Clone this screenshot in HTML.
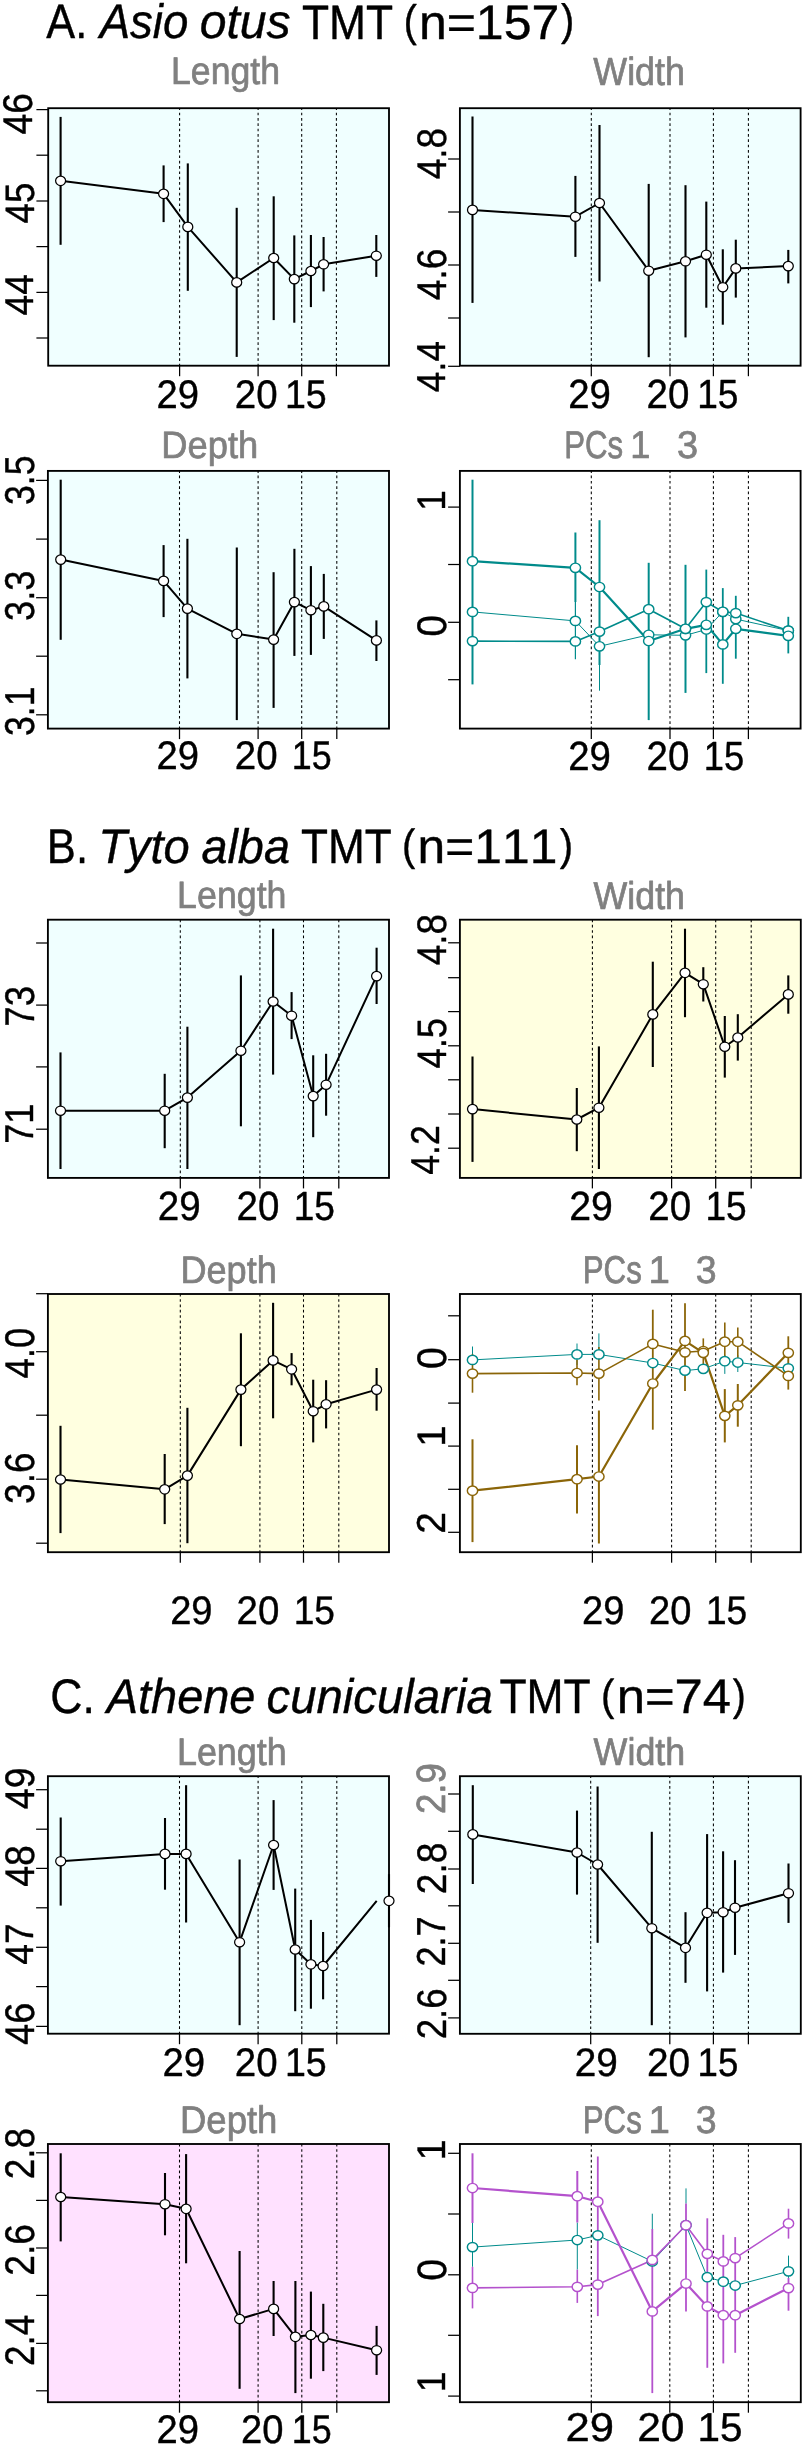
<!DOCTYPE html>
<html><head><meta charset="utf-8"><title>Owl TMT morphometrics</title>
<style>
html,body{margin:0;padding:0;background:#fff;}
body{width:804px;height:2446px;overflow:hidden;}
svg{display:block;}
text{font-family:"Liberation Sans",sans-serif;font-size:100px;text-rendering:geometricPrecision;font-kerning:none;font-feature-settings:"kern" 0,"liga" 0;stroke-linejoin:round;}
.dot{stroke:#000;stroke-width:1.05;stroke-dasharray:2.67 2.671;}
.tk{stroke:#000;stroke-width:1.25;}
.box{fill:none;stroke:#000;stroke-width:1.85;}
.bar{stroke:#000;stroke-width:2.1;}
.ln{fill:none;stroke:#000;stroke-width:2.0;stroke-linejoin:round;}
.pt{fill:#fff;stroke:#000;stroke-width:1.25;}
.tx{filter:grayscale(1);}
</style></head>
<body>
<svg width="804" height="2446" viewBox="0 0 804 2446">
<rect width="804" height="2446" fill="#fff"/>
<rect x="48.20" y="108.20" width="340.80" height="257.50" fill="#F0FFFF"/>
<line x1="179.60" y1="366.35" x2="179.60" y2="108.20" class="dot"/>
<line x1="258.10" y1="366.35" x2="258.10" y2="108.20" class="dot"/>
<line x1="301.70" y1="366.35" x2="301.70" y2="108.20" class="dot"/>
<line x1="336.40" y1="366.35" x2="336.40" y2="108.20" class="dot"/>
<line x1="179.60" y1="365.70" x2="179.60" y2="376.20" class="tk"/>
<line x1="258.10" y1="365.70" x2="258.10" y2="376.20" class="tk"/>
<line x1="301.70" y1="365.70" x2="301.70" y2="376.20" class="tk"/>
<line x1="336.40" y1="365.70" x2="336.40" y2="376.20" class="tk"/>
<rect x="48.20" y="108.20" width="340.80" height="257.50" class="box"/>
<line x1="36.40" y1="109.60" x2="48.20" y2="109.60" class="tk"/>
<line x1="36.40" y1="155.20" x2="48.20" y2="155.20" class="tk"/>
<line x1="36.40" y1="201.00" x2="48.20" y2="201.00" class="tk"/>
<line x1="36.40" y1="246.60" x2="48.20" y2="246.60" class="tk"/>
<line x1="36.40" y1="292.40" x2="48.20" y2="292.40" class="tk"/>
<line x1="36.40" y1="338.00" x2="48.20" y2="338.00" class="tk"/>
<line x1="60.60" y1="116.90" x2="60.60" y2="244.80" class="bar"/>
<line x1="163.60" y1="165.40" x2="163.60" y2="222.10" class="bar"/>
<line x1="187.80" y1="163.40" x2="187.80" y2="290.80" class="bar"/>
<line x1="236.70" y1="207.80" x2="236.70" y2="356.90" class="bar"/>
<line x1="273.70" y1="196.30" x2="273.70" y2="320.10" class="bar"/>
<line x1="294.30" y1="235.40" x2="294.30" y2="322.70" class="bar"/>
<line x1="310.90" y1="235.00" x2="310.90" y2="307.10" class="bar"/>
<line x1="323.60" y1="237.00" x2="323.60" y2="291.40" class="bar"/>
<line x1="376.30" y1="235.00" x2="376.30" y2="276.90" class="bar"/>
<polyline points="60.60,180.80 163.60,193.80 187.80,226.90 236.70,282.40 273.70,258.00 294.30,279.10 310.90,271.00 323.60,264.30 376.30,255.70" class="ln"/>
<ellipse cx="60.60" cy="180.80" rx="5.0" ry="4.7" class="pt"/>
<ellipse cx="163.60" cy="193.80" rx="5.0" ry="4.7" class="pt"/>
<ellipse cx="187.80" cy="226.90" rx="5.0" ry="4.7" class="pt"/>
<ellipse cx="236.70" cy="282.40" rx="5.0" ry="4.7" class="pt"/>
<ellipse cx="273.70" cy="258.00" rx="5.0" ry="4.7" class="pt"/>
<ellipse cx="294.30" cy="279.10" rx="5.0" ry="4.7" class="pt"/>
<ellipse cx="310.90" cy="271.00" rx="5.0" ry="4.7" class="pt"/>
<ellipse cx="323.60" cy="264.30" rx="5.0" ry="4.7" class="pt"/>
<ellipse cx="376.30" cy="255.70" rx="5.0" ry="4.7" class="pt"/>
<rect x="459.90" y="108.20" width="340.70" height="257.50" fill="#F0FFFF"/>
<line x1="591.30" y1="366.35" x2="591.30" y2="108.20" class="dot"/>
<line x1="670.00" y1="366.35" x2="670.00" y2="108.20" class="dot"/>
<line x1="713.40" y1="366.35" x2="713.40" y2="108.20" class="dot"/>
<line x1="748.40" y1="366.35" x2="748.40" y2="108.20" class="dot"/>
<line x1="591.30" y1="365.70" x2="591.30" y2="376.20" class="tk"/>
<line x1="670.00" y1="365.70" x2="670.00" y2="376.20" class="tk"/>
<line x1="713.40" y1="365.70" x2="713.40" y2="376.20" class="tk"/>
<line x1="748.40" y1="365.70" x2="748.40" y2="376.20" class="tk"/>
<rect x="459.90" y="108.20" width="340.70" height="257.50" class="box"/>
<line x1="448.10" y1="159.00" x2="459.90" y2="159.00" class="tk"/>
<line x1="448.10" y1="212.00" x2="459.90" y2="212.00" class="tk"/>
<line x1="448.10" y1="265.00" x2="459.90" y2="265.00" class="tk"/>
<line x1="448.10" y1="318.00" x2="459.90" y2="318.00" class="tk"/>
<line x1="448.10" y1="366.30" x2="459.90" y2="366.30" class="tk"/>
<line x1="472.50" y1="116.50" x2="472.50" y2="302.90" class="bar"/>
<line x1="575.40" y1="175.90" x2="575.40" y2="256.90" class="bar"/>
<line x1="599.50" y1="125.00" x2="599.50" y2="281.50" class="bar"/>
<line x1="648.70" y1="183.90" x2="648.70" y2="357.20" class="bar"/>
<line x1="685.50" y1="185.20" x2="685.50" y2="337.40" class="bar"/>
<line x1="706.30" y1="201.60" x2="706.30" y2="307.70" class="bar"/>
<line x1="722.80" y1="249.30" x2="722.80" y2="324.70" class="bar"/>
<line x1="735.80" y1="239.70" x2="735.80" y2="297.60" class="bar"/>
<line x1="788.30" y1="249.90" x2="788.30" y2="283.40" class="bar"/>
<polyline points="472.50,209.90 575.40,216.70 599.50,203.00 648.70,270.70 685.50,261.30 706.30,254.70 722.80,287.20 735.80,268.40 788.30,266.10" class="ln"/>
<ellipse cx="472.50" cy="209.90" rx="5.0" ry="4.7" class="pt"/>
<ellipse cx="575.40" cy="216.70" rx="5.0" ry="4.7" class="pt"/>
<ellipse cx="599.50" cy="203.00" rx="5.0" ry="4.7" class="pt"/>
<ellipse cx="648.70" cy="270.70" rx="5.0" ry="4.7" class="pt"/>
<ellipse cx="685.50" cy="261.30" rx="5.0" ry="4.7" class="pt"/>
<ellipse cx="706.30" cy="254.70" rx="5.0" ry="4.7" class="pt"/>
<ellipse cx="722.80" cy="287.20" rx="5.0" ry="4.7" class="pt"/>
<ellipse cx="735.80" cy="268.40" rx="5.0" ry="4.7" class="pt"/>
<ellipse cx="788.30" cy="266.10" rx="5.0" ry="4.7" class="pt"/>
<rect x="47.90" y="470.90" width="341.10" height="257.70" fill="#F0FFFF"/>
<line x1="179.50" y1="729.25" x2="179.50" y2="470.90" class="dot"/>
<line x1="258.10" y1="729.25" x2="258.10" y2="470.90" class="dot"/>
<line x1="301.70" y1="729.25" x2="301.70" y2="470.90" class="dot"/>
<line x1="336.80" y1="729.25" x2="336.80" y2="470.90" class="dot"/>
<line x1="179.50" y1="728.60" x2="179.50" y2="739.10" class="tk"/>
<line x1="258.10" y1="728.60" x2="258.10" y2="739.10" class="tk"/>
<line x1="301.70" y1="728.60" x2="301.70" y2="739.10" class="tk"/>
<line x1="336.80" y1="728.60" x2="336.80" y2="739.10" class="tk"/>
<rect x="47.90" y="470.90" width="341.10" height="257.70" class="box"/>
<line x1="36.10" y1="480.40" x2="47.90" y2="480.40" class="tk"/>
<line x1="36.10" y1="539.10" x2="47.90" y2="539.10" class="tk"/>
<line x1="36.10" y1="597.70" x2="47.90" y2="597.70" class="tk"/>
<line x1="36.10" y1="656.20" x2="47.90" y2="656.20" class="tk"/>
<line x1="36.10" y1="714.80" x2="47.90" y2="714.80" class="tk"/>
<line x1="60.70" y1="479.70" x2="60.70" y2="639.80" class="bar"/>
<line x1="163.60" y1="545.10" x2="163.60" y2="617.10" class="bar"/>
<line x1="187.40" y1="538.80" x2="187.40" y2="678.40" class="bar"/>
<line x1="236.80" y1="547.50" x2="236.80" y2="720.10" class="bar"/>
<line x1="273.60" y1="572.20" x2="273.60" y2="707.90" class="bar"/>
<line x1="294.40" y1="548.80" x2="294.40" y2="655.90" class="bar"/>
<line x1="310.90" y1="566.10" x2="310.90" y2="654.90" class="bar"/>
<line x1="323.80" y1="573.90" x2="323.80" y2="638.90" class="bar"/>
<line x1="376.40" y1="620.40" x2="376.40" y2="661.00" class="bar"/>
<polyline points="60.70,559.60 163.60,580.90 187.40,608.60 236.80,633.80 273.60,639.60 294.40,602.10 310.90,610.20 323.80,606.40 376.40,640.40" class="ln"/>
<ellipse cx="60.70" cy="559.60" rx="5.0" ry="4.7" class="pt"/>
<ellipse cx="163.60" cy="580.90" rx="5.0" ry="4.7" class="pt"/>
<ellipse cx="187.40" cy="608.60" rx="5.0" ry="4.7" class="pt"/>
<ellipse cx="236.80" cy="633.80" rx="5.0" ry="4.7" class="pt"/>
<ellipse cx="273.60" cy="639.60" rx="5.0" ry="4.7" class="pt"/>
<ellipse cx="294.40" cy="602.10" rx="5.0" ry="4.7" class="pt"/>
<ellipse cx="310.90" cy="610.20" rx="5.0" ry="4.7" class="pt"/>
<ellipse cx="323.80" cy="606.40" rx="5.0" ry="4.7" class="pt"/>
<ellipse cx="376.40" cy="640.40" rx="5.0" ry="4.7" class="pt"/>
<rect x="459.90" y="470.90" width="340.70" height="257.70" fill="#FFFFFF"/>
<line x1="591.30" y1="729.25" x2="591.30" y2="470.90" class="dot"/>
<line x1="670.00" y1="729.25" x2="670.00" y2="470.90" class="dot"/>
<line x1="713.40" y1="729.25" x2="713.40" y2="470.90" class="dot"/>
<line x1="748.40" y1="729.25" x2="748.40" y2="470.90" class="dot"/>
<line x1="591.30" y1="728.60" x2="591.30" y2="739.10" class="tk"/>
<line x1="670.00" y1="728.60" x2="670.00" y2="739.10" class="tk"/>
<line x1="713.40" y1="728.60" x2="713.40" y2="739.10" class="tk"/>
<line x1="748.40" y1="728.60" x2="748.40" y2="739.10" class="tk"/>
<rect x="459.90" y="470.90" width="340.70" height="257.70" class="box"/>
<line x1="448.10" y1="507.10" x2="459.90" y2="507.10" class="tk"/>
<line x1="448.10" y1="564.50" x2="459.90" y2="564.50" class="tk"/>
<line x1="448.10" y1="622.30" x2="459.90" y2="622.30" class="tk"/>
<line x1="448.10" y1="679.70" x2="459.90" y2="679.70" class="tk"/>
<line x1="472.50" y1="479.70" x2="472.50" y2="684.40" stroke="#008B8B" stroke-width="2.00"/>
<line x1="575.40" y1="532.50" x2="575.40" y2="602.00" stroke="#008B8B" stroke-width="2.00"/>
<line x1="575.40" y1="602.00" x2="575.40" y2="659.20" stroke="#008B8B" stroke-width="1.20"/>
<line x1="599.50" y1="520.20" x2="599.50" y2="665.00" stroke="#008B8B" stroke-width="2.00"/>
<line x1="599.50" y1="665.00" x2="599.50" y2="690.70" stroke="#008B8B" stroke-width="1.00"/>
<line x1="648.70" y1="562.80" x2="648.70" y2="720.10" stroke="#008B8B" stroke-width="2.00"/>
<line x1="685.50" y1="564.80" x2="685.50" y2="692.90" stroke="#008B8B" stroke-width="2.00"/>
<line x1="706.30" y1="569.60" x2="706.30" y2="673.10" stroke="#008B8B" stroke-width="1.80"/>
<line x1="722.80" y1="588.10" x2="722.80" y2="683.80" stroke="#008B8B" stroke-width="1.80"/>
<line x1="735.80" y1="595.80" x2="735.80" y2="658.70" stroke="#008B8B" stroke-width="1.80"/>
<line x1="788.30" y1="616.80" x2="788.30" y2="653.40" stroke="#008B8B" stroke-width="1.80"/>
<polyline points="472.50,611.90 575.40,620.90 599.50,646.30 648.70,634.80 685.50,635.30 706.30,629.50 722.80,611.80 735.80,619.10 788.30,630.60" fill="none" stroke="#008B8B" stroke-width="1.00" stroke-linejoin="round"/>
<polyline points="472.50,641.10 575.40,641.40 599.50,631.60 648.70,609.20 685.50,628.80 706.30,602.10 722.80,611.80 735.80,613.10 788.30,630.60" fill="none" stroke="#008B8B" stroke-width="1.60" stroke-linejoin="round"/>
<polyline points="472.50,561.20 575.40,567.80 599.50,587.00 648.70,641.00 685.50,628.80 706.30,624.80 722.80,644.40 735.80,628.80 788.30,635.80" fill="none" stroke="#008B8B" stroke-width="2.20" stroke-linejoin="round"/>
<ellipse cx="472.50" cy="611.90" rx="5.15" ry="4.65" fill="#fff" stroke="#008B8B" stroke-width="1.45"/>
<ellipse cx="575.40" cy="620.90" rx="5.15" ry="4.65" fill="#fff" stroke="#008B8B" stroke-width="1.45"/>
<ellipse cx="599.50" cy="646.30" rx="5.15" ry="4.65" fill="#fff" stroke="#008B8B" stroke-width="1.45"/>
<ellipse cx="648.70" cy="634.80" rx="5.15" ry="4.65" fill="#fff" stroke="#008B8B" stroke-width="1.45"/>
<ellipse cx="685.50" cy="635.30" rx="5.15" ry="4.65" fill="#fff" stroke="#008B8B" stroke-width="1.45"/>
<ellipse cx="706.30" cy="629.50" rx="5.15" ry="4.65" fill="#fff" stroke="#008B8B" stroke-width="1.45"/>
<ellipse cx="722.80" cy="611.80" rx="5.15" ry="4.65" fill="#fff" stroke="#008B8B" stroke-width="1.45"/>
<ellipse cx="735.80" cy="619.10" rx="5.15" ry="4.65" fill="#fff" stroke="#008B8B" stroke-width="1.45"/>
<ellipse cx="788.30" cy="630.60" rx="5.15" ry="4.65" fill="#fff" stroke="#008B8B" stroke-width="1.45"/>
<ellipse cx="472.50" cy="641.10" rx="5.15" ry="4.65" fill="#fff" stroke="#008B8B" stroke-width="1.45"/>
<ellipse cx="575.40" cy="641.40" rx="5.15" ry="4.65" fill="#fff" stroke="#008B8B" stroke-width="1.45"/>
<ellipse cx="599.50" cy="631.60" rx="5.15" ry="4.65" fill="#fff" stroke="#008B8B" stroke-width="1.45"/>
<ellipse cx="648.70" cy="609.20" rx="5.15" ry="4.65" fill="#fff" stroke="#008B8B" stroke-width="1.45"/>
<ellipse cx="685.50" cy="628.80" rx="5.15" ry="4.65" fill="#fff" stroke="#008B8B" stroke-width="1.45"/>
<ellipse cx="706.30" cy="602.10" rx="5.15" ry="4.65" fill="#fff" stroke="#008B8B" stroke-width="1.45"/>
<ellipse cx="722.80" cy="611.80" rx="5.15" ry="4.65" fill="#fff" stroke="#008B8B" stroke-width="1.45"/>
<ellipse cx="735.80" cy="613.10" rx="5.15" ry="4.65" fill="#fff" stroke="#008B8B" stroke-width="1.45"/>
<ellipse cx="788.30" cy="630.60" rx="5.15" ry="4.65" fill="#fff" stroke="#008B8B" stroke-width="1.45"/>
<ellipse cx="472.50" cy="561.20" rx="5.15" ry="4.65" fill="#fff" stroke="#008B8B" stroke-width="1.45"/>
<ellipse cx="575.40" cy="567.80" rx="5.15" ry="4.65" fill="#fff" stroke="#008B8B" stroke-width="1.45"/>
<ellipse cx="599.50" cy="587.00" rx="5.15" ry="4.65" fill="#fff" stroke="#008B8B" stroke-width="1.45"/>
<ellipse cx="648.70" cy="641.00" rx="5.15" ry="4.65" fill="#fff" stroke="#008B8B" stroke-width="1.45"/>
<ellipse cx="685.50" cy="628.80" rx="5.15" ry="4.65" fill="#fff" stroke="#008B8B" stroke-width="1.45"/>
<ellipse cx="706.30" cy="624.80" rx="5.15" ry="4.65" fill="#fff" stroke="#008B8B" stroke-width="1.45"/>
<ellipse cx="722.80" cy="644.40" rx="5.15" ry="4.65" fill="#fff" stroke="#008B8B" stroke-width="1.45"/>
<ellipse cx="735.80" cy="628.80" rx="5.15" ry="4.65" fill="#fff" stroke="#008B8B" stroke-width="1.45"/>
<ellipse cx="788.30" cy="635.80" rx="5.15" ry="4.65" fill="#fff" stroke="#008B8B" stroke-width="1.45"/>
<rect x="47.90" y="919.70" width="341.10" height="258.20" fill="#F0FFFF"/>
<line x1="180.30" y1="1178.56" x2="180.30" y2="919.70" class="dot"/>
<line x1="259.90" y1="1178.56" x2="259.90" y2="919.70" class="dot"/>
<line x1="303.50" y1="1178.56" x2="303.50" y2="919.70" class="dot"/>
<line x1="338.80" y1="1178.56" x2="338.80" y2="919.70" class="dot"/>
<line x1="180.30" y1="1177.90" x2="180.30" y2="1188.40" class="tk"/>
<line x1="259.90" y1="1177.90" x2="259.90" y2="1188.40" class="tk"/>
<line x1="303.50" y1="1177.90" x2="303.50" y2="1188.40" class="tk"/>
<line x1="338.80" y1="1177.90" x2="338.80" y2="1188.40" class="tk"/>
<rect x="47.90" y="919.70" width="341.10" height="258.20" class="box"/>
<line x1="36.10" y1="943.00" x2="47.90" y2="943.00" class="tk"/>
<line x1="36.10" y1="1005.10" x2="47.90" y2="1005.10" class="tk"/>
<line x1="36.10" y1="1066.90" x2="47.90" y2="1066.90" class="tk"/>
<line x1="36.10" y1="1129.20" x2="47.90" y2="1129.20" class="tk"/>
<line x1="60.50" y1="1052.40" x2="60.50" y2="1169.00" class="bar"/>
<line x1="164.70" y1="1073.80" x2="164.70" y2="1148.20" class="bar"/>
<line x1="187.40" y1="1026.70" x2="187.40" y2="1169.00" class="bar"/>
<line x1="240.90" y1="975.40" x2="240.90" y2="1126.30" class="bar"/>
<line x1="273.10" y1="928.70" x2="273.10" y2="1074.60" class="bar"/>
<line x1="291.60" y1="992.10" x2="291.60" y2="1039.10" class="bar"/>
<line x1="313.20" y1="1055.30" x2="313.20" y2="1137.20" class="bar"/>
<line x1="326.10" y1="1053.80" x2="326.10" y2="1115.70" class="bar"/>
<line x1="376.60" y1="947.70" x2="376.60" y2="1004.00" class="bar"/>
<polyline points="60.50,1110.70 164.70,1110.70 187.40,1097.60 240.90,1050.70 273.10,1001.50 291.60,1015.70 313.20,1096.10 326.10,1084.70 376.60,976.10" class="ln"/>
<ellipse cx="60.50" cy="1110.70" rx="5.0" ry="4.7" class="pt"/>
<ellipse cx="164.70" cy="1110.70" rx="5.0" ry="4.7" class="pt"/>
<ellipse cx="187.40" cy="1097.60" rx="5.0" ry="4.7" class="pt"/>
<ellipse cx="240.90" cy="1050.70" rx="5.0" ry="4.7" class="pt"/>
<ellipse cx="273.10" cy="1001.50" rx="5.0" ry="4.7" class="pt"/>
<ellipse cx="291.60" cy="1015.70" rx="5.0" ry="4.7" class="pt"/>
<ellipse cx="313.20" cy="1096.10" rx="5.0" ry="4.7" class="pt"/>
<ellipse cx="326.10" cy="1084.70" rx="5.0" ry="4.7" class="pt"/>
<ellipse cx="376.60" cy="976.10" rx="5.0" ry="4.7" class="pt"/>
<rect x="459.90" y="919.70" width="340.90" height="258.20" fill="#FFFFE0"/>
<line x1="592.40" y1="1178.56" x2="592.40" y2="919.70" class="dot"/>
<line x1="671.60" y1="1178.56" x2="671.60" y2="919.70" class="dot"/>
<line x1="715.70" y1="1178.56" x2="715.70" y2="919.70" class="dot"/>
<line x1="751.20" y1="1178.56" x2="751.20" y2="919.70" class="dot"/>
<line x1="592.40" y1="1177.90" x2="592.40" y2="1188.40" class="tk"/>
<line x1="671.60" y1="1177.90" x2="671.60" y2="1188.40" class="tk"/>
<line x1="715.70" y1="1177.90" x2="715.70" y2="1188.40" class="tk"/>
<line x1="751.20" y1="1177.90" x2="751.20" y2="1188.40" class="tk"/>
<rect x="459.90" y="919.70" width="340.90" height="258.20" class="box"/>
<line x1="448.10" y1="942.80" x2="459.90" y2="942.80" class="tk"/>
<line x1="448.10" y1="977.70" x2="459.90" y2="977.70" class="tk"/>
<line x1="448.10" y1="1011.60" x2="459.90" y2="1011.60" class="tk"/>
<line x1="448.10" y1="1045.80" x2="459.90" y2="1045.80" class="tk"/>
<line x1="448.10" y1="1079.80" x2="459.90" y2="1079.80" class="tk"/>
<line x1="448.10" y1="1114.00" x2="459.90" y2="1114.00" class="tk"/>
<line x1="448.10" y1="1148.20" x2="459.90" y2="1148.20" class="tk"/>
<line x1="472.50" y1="1056.50" x2="472.50" y2="1161.90" class="bar"/>
<line x1="576.80" y1="1088.00" x2="576.80" y2="1151.20" class="bar"/>
<line x1="598.90" y1="1046.40" x2="598.90" y2="1169.00" class="bar"/>
<line x1="652.80" y1="961.70" x2="652.80" y2="1067.00" class="bar"/>
<line x1="685.00" y1="928.70" x2="685.00" y2="1017.20" class="bar"/>
<line x1="703.30" y1="967.20" x2="703.30" y2="1001.50" class="bar"/>
<line x1="724.80" y1="1016.00" x2="724.80" y2="1077.60" class="bar"/>
<line x1="737.80" y1="1014.20" x2="737.80" y2="1060.60" class="bar"/>
<line x1="788.30" y1="975.40" x2="788.30" y2="1013.70" class="bar"/>
<polyline points="472.50,1109.10 576.80,1119.50 598.90,1107.70 652.80,1014.40 685.00,972.80 703.30,984.20 724.80,1046.70 737.80,1037.50 788.30,994.40" class="ln"/>
<ellipse cx="472.50" cy="1109.10" rx="5.0" ry="4.7" class="pt"/>
<ellipse cx="576.80" cy="1119.50" rx="5.0" ry="4.7" class="pt"/>
<ellipse cx="598.90" cy="1107.70" rx="5.0" ry="4.7" class="pt"/>
<ellipse cx="652.80" cy="1014.40" rx="5.0" ry="4.7" class="pt"/>
<ellipse cx="685.00" cy="972.80" rx="5.0" ry="4.7" class="pt"/>
<ellipse cx="703.30" cy="984.20" rx="5.0" ry="4.7" class="pt"/>
<ellipse cx="724.80" cy="1046.70" rx="5.0" ry="4.7" class="pt"/>
<ellipse cx="737.80" cy="1037.50" rx="5.0" ry="4.7" class="pt"/>
<ellipse cx="788.30" cy="994.40" rx="5.0" ry="4.7" class="pt"/>
<rect x="47.90" y="1294.00" width="341.10" height="258.20" fill="#FFFFE0"/>
<line x1="180.30" y1="1552.86" x2="180.30" y2="1294.00" class="dot"/>
<line x1="259.90" y1="1552.86" x2="259.90" y2="1294.00" class="dot"/>
<line x1="303.50" y1="1552.86" x2="303.50" y2="1294.00" class="dot"/>
<line x1="338.80" y1="1552.86" x2="338.80" y2="1294.00" class="dot"/>
<line x1="180.30" y1="1552.20" x2="180.30" y2="1562.70" class="tk"/>
<line x1="259.90" y1="1552.20" x2="259.90" y2="1562.70" class="tk"/>
<line x1="303.50" y1="1552.20" x2="303.50" y2="1562.70" class="tk"/>
<line x1="338.80" y1="1552.20" x2="338.80" y2="1562.70" class="tk"/>
<rect x="47.90" y="1294.00" width="341.10" height="258.20" class="box"/>
<line x1="36.10" y1="1293.70" x2="47.90" y2="1293.70" class="tk"/>
<line x1="36.10" y1="1351.70" x2="47.90" y2="1351.70" class="tk"/>
<line x1="36.10" y1="1415.20" x2="47.90" y2="1415.20" class="tk"/>
<line x1="36.10" y1="1479.20" x2="47.90" y2="1479.20" class="tk"/>
<line x1="36.10" y1="1543.20" x2="47.90" y2="1543.20" class="tk"/>
<line x1="60.50" y1="1425.80" x2="60.50" y2="1533.10" class="bar"/>
<line x1="164.70" y1="1454.00" x2="164.70" y2="1524.10" class="bar"/>
<line x1="187.40" y1="1407.80" x2="187.40" y2="1543.20" class="bar"/>
<line x1="240.90" y1="1333.30" x2="240.90" y2="1446.20" class="bar"/>
<line x1="273.10" y1="1302.80" x2="273.10" y2="1418.30" class="bar"/>
<line x1="291.60" y1="1353.10" x2="291.60" y2="1385.30" class="bar"/>
<line x1="313.20" y1="1379.70" x2="313.20" y2="1442.40" class="bar"/>
<line x1="326.10" y1="1380.20" x2="326.10" y2="1428.40" class="bar"/>
<line x1="376.60" y1="1368.00" x2="376.60" y2="1410.70" class="bar"/>
<polyline points="60.50,1479.50 164.70,1489.30 187.40,1475.60 240.90,1389.60 273.10,1360.40 291.60,1369.30 313.20,1411.20 326.10,1404.30 376.60,1389.60" class="ln"/>
<ellipse cx="60.50" cy="1479.50" rx="5.0" ry="4.7" class="pt"/>
<ellipse cx="164.70" cy="1489.30" rx="5.0" ry="4.7" class="pt"/>
<ellipse cx="187.40" cy="1475.60" rx="5.0" ry="4.7" class="pt"/>
<ellipse cx="240.90" cy="1389.60" rx="5.0" ry="4.7" class="pt"/>
<ellipse cx="273.10" cy="1360.40" rx="5.0" ry="4.7" class="pt"/>
<ellipse cx="291.60" cy="1369.30" rx="5.0" ry="4.7" class="pt"/>
<ellipse cx="313.20" cy="1411.20" rx="5.0" ry="4.7" class="pt"/>
<ellipse cx="326.10" cy="1404.30" rx="5.0" ry="4.7" class="pt"/>
<ellipse cx="376.60" cy="1389.60" rx="5.0" ry="4.7" class="pt"/>
<rect x="459.90" y="1294.00" width="340.90" height="258.20" fill="#FFFFFF"/>
<line x1="592.40" y1="1552.86" x2="592.40" y2="1294.00" class="dot"/>
<line x1="671.60" y1="1552.86" x2="671.60" y2="1294.00" class="dot"/>
<line x1="715.70" y1="1552.86" x2="715.70" y2="1294.00" class="dot"/>
<line x1="751.20" y1="1552.86" x2="751.20" y2="1294.00" class="dot"/>
<line x1="592.40" y1="1552.20" x2="592.40" y2="1562.70" class="tk"/>
<line x1="671.60" y1="1552.20" x2="671.60" y2="1562.70" class="tk"/>
<line x1="715.70" y1="1552.20" x2="715.70" y2="1562.70" class="tk"/>
<line x1="751.20" y1="1552.20" x2="751.20" y2="1562.70" class="tk"/>
<rect x="459.90" y="1294.00" width="340.90" height="258.20" class="box"/>
<line x1="448.10" y1="1315.80" x2="459.90" y2="1315.80" class="tk"/>
<line x1="448.10" y1="1359.70" x2="459.90" y2="1359.70" class="tk"/>
<line x1="448.10" y1="1403.10" x2="459.90" y2="1403.10" class="tk"/>
<line x1="448.10" y1="1446.10" x2="459.90" y2="1446.10" class="tk"/>
<line x1="448.10" y1="1489.30" x2="459.90" y2="1489.30" class="tk"/>
<line x1="448.10" y1="1532.30" x2="459.90" y2="1532.30" class="tk"/>
<line x1="472.50" y1="1346.50" x2="472.50" y2="1373.00" stroke="#008B8B" stroke-width="1.00"/>
<line x1="577.00" y1="1343.50" x2="577.00" y2="1365.00" stroke="#008B8B" stroke-width="1.00"/>
<line x1="598.90" y1="1333.40" x2="598.90" y2="1360.00" stroke="#008B8B" stroke-width="1.00"/>
<line x1="724.80" y1="1355.00" x2="724.80" y2="1373.90" stroke="#008B8B" stroke-width="1.00"/>
<line x1="737.80" y1="1355.00" x2="737.80" y2="1372.00" stroke="#008B8B" stroke-width="1.00"/>
<line x1="788.30" y1="1360.00" x2="788.30" y2="1376.00" stroke="#008B8B" stroke-width="1.00"/>
<line x1="472.50" y1="1353.90" x2="472.50" y2="1392.70" stroke="#8B6508" stroke-width="1.60"/>
<line x1="472.50" y1="1439.30" x2="472.50" y2="1542.10" stroke="#8B6508" stroke-width="2.00"/>
<line x1="577.00" y1="1360.00" x2="577.00" y2="1385.30" stroke="#8B6508" stroke-width="1.60"/>
<line x1="577.00" y1="1445.30" x2="577.00" y2="1513.40" stroke="#8B6508" stroke-width="2.00"/>
<line x1="598.90" y1="1347.00" x2="598.90" y2="1400.40" stroke="#8B6508" stroke-width="1.60"/>
<line x1="598.90" y1="1410.50" x2="598.90" y2="1543.50" stroke="#8B6508" stroke-width="2.00"/>
<line x1="652.80" y1="1309.70" x2="652.80" y2="1429.70" stroke="#8B6508" stroke-width="1.80"/>
<line x1="685.00" y1="1303.30" x2="685.00" y2="1390.90" stroke="#8B6508" stroke-width="1.80"/>
<line x1="703.30" y1="1338.40" x2="703.30" y2="1366.30" stroke="#8B6508" stroke-width="1.60"/>
<line x1="724.80" y1="1322.60" x2="724.80" y2="1360.00" stroke="#8B6508" stroke-width="1.60"/>
<line x1="724.80" y1="1389.10" x2="724.80" y2="1442.40" stroke="#8B6508" stroke-width="2.00"/>
<line x1="737.80" y1="1327.40" x2="737.80" y2="1358.00" stroke="#8B6508" stroke-width="1.60"/>
<line x1="737.80" y1="1384.00" x2="737.80" y2="1426.70" stroke="#8B6508" stroke-width="2.00"/>
<line x1="788.30" y1="1336.30" x2="788.30" y2="1389.60" stroke="#8B6508" stroke-width="1.80"/>
<polyline points="472.50,1359.90 577.00,1354.40 598.90,1354.40 652.80,1363.00 685.00,1370.60 703.30,1368.80 724.80,1361.20 737.80,1362.50 788.30,1368.30" fill="none" stroke="#008B8B" stroke-width="1.00" stroke-linejoin="round"/>
<polyline points="472.50,1373.60 577.00,1373.00 598.90,1373.60 652.80,1343.90 685.00,1352.30 703.30,1351.00 724.80,1341.70 737.80,1341.70 788.30,1375.90" fill="none" stroke="#8B6508" stroke-width="1.60" stroke-linejoin="round"/>
<polyline points="472.50,1490.70 577.00,1479.20 598.90,1476.50 652.80,1383.50 685.00,1340.90 703.30,1352.80 724.80,1415.80 737.80,1405.30 788.30,1352.80" fill="none" stroke="#8B6508" stroke-width="2.20" stroke-linejoin="round"/>
<ellipse cx="472.50" cy="1359.90" rx="5.15" ry="4.65" fill="#fff" stroke="#008B8B" stroke-width="1.45"/>
<ellipse cx="577.00" cy="1354.40" rx="5.15" ry="4.65" fill="#fff" stroke="#008B8B" stroke-width="1.45"/>
<ellipse cx="598.90" cy="1354.40" rx="5.15" ry="4.65" fill="#fff" stroke="#008B8B" stroke-width="1.45"/>
<ellipse cx="652.80" cy="1363.00" rx="5.15" ry="4.65" fill="#fff" stroke="#008B8B" stroke-width="1.45"/>
<ellipse cx="685.00" cy="1370.60" rx="5.15" ry="4.65" fill="#fff" stroke="#008B8B" stroke-width="1.45"/>
<ellipse cx="703.30" cy="1368.80" rx="5.15" ry="4.65" fill="#fff" stroke="#008B8B" stroke-width="1.45"/>
<ellipse cx="724.80" cy="1361.20" rx="5.15" ry="4.65" fill="#fff" stroke="#008B8B" stroke-width="1.45"/>
<ellipse cx="737.80" cy="1362.50" rx="5.15" ry="4.65" fill="#fff" stroke="#008B8B" stroke-width="1.45"/>
<ellipse cx="788.30" cy="1368.30" rx="5.15" ry="4.65" fill="#fff" stroke="#008B8B" stroke-width="1.45"/>
<ellipse cx="472.50" cy="1373.60" rx="5.15" ry="4.65" fill="#fff" stroke="#8B6508" stroke-width="1.45"/>
<ellipse cx="577.00" cy="1373.00" rx="5.15" ry="4.65" fill="#fff" stroke="#8B6508" stroke-width="1.45"/>
<ellipse cx="598.90" cy="1373.60" rx="5.15" ry="4.65" fill="#fff" stroke="#8B6508" stroke-width="1.45"/>
<ellipse cx="652.80" cy="1343.90" rx="5.15" ry="4.65" fill="#fff" stroke="#8B6508" stroke-width="1.45"/>
<ellipse cx="685.00" cy="1352.30" rx="5.15" ry="4.65" fill="#fff" stroke="#8B6508" stroke-width="1.45"/>
<ellipse cx="703.30" cy="1351.00" rx="5.15" ry="4.65" fill="#fff" stroke="#8B6508" stroke-width="1.45"/>
<ellipse cx="724.80" cy="1341.70" rx="5.15" ry="4.65" fill="#fff" stroke="#8B6508" stroke-width="1.45"/>
<ellipse cx="737.80" cy="1341.70" rx="5.15" ry="4.65" fill="#fff" stroke="#8B6508" stroke-width="1.45"/>
<ellipse cx="788.30" cy="1375.90" rx="5.15" ry="4.65" fill="#fff" stroke="#8B6508" stroke-width="1.45"/>
<ellipse cx="472.50" cy="1490.70" rx="5.15" ry="4.65" fill="#fff" stroke="#8B6508" stroke-width="1.45"/>
<ellipse cx="577.00" cy="1479.20" rx="5.15" ry="4.65" fill="#fff" stroke="#8B6508" stroke-width="1.45"/>
<ellipse cx="598.90" cy="1476.50" rx="5.15" ry="4.65" fill="#fff" stroke="#8B6508" stroke-width="1.45"/>
<ellipse cx="652.80" cy="1383.50" rx="5.15" ry="4.65" fill="#fff" stroke="#8B6508" stroke-width="1.45"/>
<ellipse cx="685.00" cy="1340.90" rx="5.15" ry="4.65" fill="#fff" stroke="#8B6508" stroke-width="1.45"/>
<ellipse cx="703.30" cy="1352.80" rx="5.15" ry="4.65" fill="#fff" stroke="#8B6508" stroke-width="1.45"/>
<ellipse cx="724.80" cy="1415.80" rx="5.15" ry="4.65" fill="#fff" stroke="#8B6508" stroke-width="1.45"/>
<ellipse cx="737.80" cy="1405.30" rx="5.15" ry="4.65" fill="#fff" stroke="#8B6508" stroke-width="1.45"/>
<ellipse cx="788.30" cy="1352.80" rx="5.15" ry="4.65" fill="#fff" stroke="#8B6508" stroke-width="1.45"/>
<rect x="47.90" y="1776.20" width="341.10" height="257.50" fill="#F0FFFF"/>
<line x1="179.50" y1="2034.36" x2="179.50" y2="1776.20" class="dot"/>
<line x1="258.10" y1="2034.36" x2="258.10" y2="1776.20" class="dot"/>
<line x1="301.80" y1="2034.36" x2="301.80" y2="1776.20" class="dot"/>
<line x1="336.80" y1="2034.36" x2="336.80" y2="1776.20" class="dot"/>
<line x1="179.50" y1="2033.70" x2="179.50" y2="2044.20" class="tk"/>
<line x1="258.10" y1="2033.70" x2="258.10" y2="2044.20" class="tk"/>
<line x1="301.80" y1="2033.70" x2="301.80" y2="2044.20" class="tk"/>
<line x1="336.80" y1="2033.70" x2="336.80" y2="2044.20" class="tk"/>
<rect x="47.90" y="1776.20" width="341.10" height="257.50" class="box"/>
<line x1="36.10" y1="1789.70" x2="47.90" y2="1789.70" class="tk"/>
<line x1="36.10" y1="1829.20" x2="47.90" y2="1829.20" class="tk"/>
<line x1="36.10" y1="1868.40" x2="47.90" y2="1868.40" class="tk"/>
<line x1="36.10" y1="1907.80" x2="47.90" y2="1907.80" class="tk"/>
<line x1="36.10" y1="1947.30" x2="47.90" y2="1947.30" class="tk"/>
<line x1="36.10" y1="1986.60" x2="47.90" y2="1986.60" class="tk"/>
<line x1="36.10" y1="2026.40" x2="47.90" y2="2026.40" class="tk"/>
<line x1="60.70" y1="1817.50" x2="60.70" y2="1905.60" class="bar"/>
<line x1="165.00" y1="1818.00" x2="165.00" y2="1889.70" class="bar"/>
<line x1="186.10" y1="1785.20" x2="186.10" y2="1922.50" class="bar"/>
<line x1="239.60" y1="1859.50" x2="239.60" y2="2025.20" class="bar"/>
<line x1="273.60" y1="1800.10" x2="273.60" y2="1889.90" class="bar"/>
<line x1="295.20" y1="1888.60" x2="295.20" y2="2011.20" class="bar"/>
<line x1="310.90" y1="1919.90" x2="310.90" y2="2008.70" class="bar"/>
<line x1="323.10" y1="1932.00" x2="323.10" y2="1999.30" class="bar"/>
<line x1="389.00" y1="1874.20" x2="389.00" y2="1927.40" class="bar"/>
<polyline points="60.70,1861.20 165.00,1853.90 186.10,1853.90 239.60,1942.20 273.60,1845.00 295.20,1949.50 310.90,1964.30 323.10,1966.00 376.70,1900.80" class="ln"/>
<ellipse cx="60.70" cy="1861.20" rx="5.0" ry="4.7" class="pt"/>
<ellipse cx="165.00" cy="1853.90" rx="5.0" ry="4.7" class="pt"/>
<ellipse cx="186.10" cy="1853.90" rx="5.0" ry="4.7" class="pt"/>
<ellipse cx="239.60" cy="1942.20" rx="5.0" ry="4.7" class="pt"/>
<ellipse cx="273.60" cy="1845.00" rx="5.0" ry="4.7" class="pt"/>
<ellipse cx="295.20" cy="1949.50" rx="5.0" ry="4.7" class="pt"/>
<ellipse cx="310.90" cy="1964.30" rx="5.0" ry="4.7" class="pt"/>
<ellipse cx="323.10" cy="1966.00" rx="5.0" ry="4.7" class="pt"/>
<ellipse cx="389.00" cy="1900.80" rx="5.0" ry="4.7" class="pt"/>
<rect x="459.90" y="1776.20" width="340.90" height="257.60" fill="#F0FFFF"/>
<line x1="590.70" y1="2034.45" x2="590.70" y2="1776.20" class="dot"/>
<line x1="669.80" y1="2034.45" x2="669.80" y2="1776.20" class="dot"/>
<line x1="713.40" y1="2034.45" x2="713.40" y2="1776.20" class="dot"/>
<line x1="748.40" y1="2034.45" x2="748.40" y2="1776.20" class="dot"/>
<line x1="590.70" y1="2033.80" x2="590.70" y2="2044.30" class="tk"/>
<line x1="669.80" y1="2033.80" x2="669.80" y2="2044.30" class="tk"/>
<line x1="713.40" y1="2033.80" x2="713.40" y2="2044.30" class="tk"/>
<line x1="748.40" y1="2033.80" x2="748.40" y2="2044.30" class="tk"/>
<rect x="459.90" y="1776.20" width="340.90" height="257.60" class="box"/>
<line x1="448.10" y1="1794.00" x2="459.90" y2="1794.00" class="tk"/>
<line x1="448.10" y1="1831.30" x2="459.90" y2="1831.30" class="tk"/>
<line x1="448.10" y1="1869.00" x2="459.90" y2="1869.00" class="tk"/>
<line x1="448.10" y1="1905.80" x2="459.90" y2="1905.80" class="tk"/>
<line x1="448.10" y1="1943.30" x2="459.90" y2="1943.30" class="tk"/>
<line x1="448.10" y1="1980.30" x2="459.90" y2="1980.30" class="tk"/>
<line x1="448.10" y1="2017.90" x2="459.90" y2="2017.90" class="tk"/>
<line x1="472.80" y1="1785.20" x2="472.80" y2="1884.00" class="bar"/>
<line x1="577.00" y1="1810.60" x2="577.00" y2="1894.60" class="bar"/>
<line x1="597.60" y1="1786.50" x2="597.60" y2="1942.80" class="bar"/>
<line x1="651.80" y1="1831.80" x2="651.80" y2="2025.20" class="bar"/>
<line x1="685.50" y1="1912.20" x2="685.50" y2="1982.80" class="bar"/>
<line x1="707.10" y1="1834.10" x2="707.10" y2="1991.40" class="bar"/>
<line x1="723.10" y1="1851.30" x2="723.10" y2="1972.60" class="bar"/>
<line x1="735.00" y1="1860.20" x2="735.00" y2="1954.90" class="bar"/>
<line x1="788.50" y1="1863.50" x2="788.50" y2="1922.90" class="bar"/>
<polyline points="472.80,1834.40 577.00,1852.50 597.60,1864.50 651.80,1928.20 685.50,1947.80 707.10,1912.80 723.10,1912.20 735.00,1907.70 788.50,1893.20" class="ln"/>
<ellipse cx="472.80" cy="1834.40" rx="5.0" ry="4.7" class="pt"/>
<ellipse cx="577.00" cy="1852.50" rx="5.0" ry="4.7" class="pt"/>
<ellipse cx="597.60" cy="1864.50" rx="5.0" ry="4.7" class="pt"/>
<ellipse cx="651.80" cy="1928.20" rx="5.0" ry="4.7" class="pt"/>
<ellipse cx="685.50" cy="1947.80" rx="5.0" ry="4.7" class="pt"/>
<ellipse cx="707.10" cy="1912.80" rx="5.0" ry="4.7" class="pt"/>
<ellipse cx="723.10" cy="1912.20" rx="5.0" ry="4.7" class="pt"/>
<ellipse cx="735.00" cy="1907.70" rx="5.0" ry="4.7" class="pt"/>
<ellipse cx="788.50" cy="1893.20" rx="5.0" ry="4.7" class="pt"/>
<rect x="47.90" y="2144.00" width="341.10" height="258.20" fill="#FFE1FF"/>
<line x1="179.50" y1="2402.86" x2="179.50" y2="2144.00" class="dot"/>
<line x1="258.10" y1="2402.86" x2="258.10" y2="2144.00" class="dot"/>
<line x1="301.80" y1="2402.86" x2="301.80" y2="2144.00" class="dot"/>
<line x1="336.80" y1="2402.86" x2="336.80" y2="2144.00" class="dot"/>
<line x1="179.50" y1="2402.20" x2="179.50" y2="2412.70" class="tk"/>
<line x1="258.10" y1="2402.20" x2="258.10" y2="2412.70" class="tk"/>
<line x1="301.80" y1="2402.20" x2="301.80" y2="2412.70" class="tk"/>
<line x1="336.80" y1="2402.20" x2="336.80" y2="2412.70" class="tk"/>
<rect x="47.90" y="2144.00" width="341.10" height="258.20" class="box"/>
<line x1="36.10" y1="2152.80" x2="47.90" y2="2152.80" class="tk"/>
<line x1="36.10" y1="2200.40" x2="47.90" y2="2200.40" class="tk"/>
<line x1="36.10" y1="2248.00" x2="47.90" y2="2248.00" class="tk"/>
<line x1="36.10" y1="2295.40" x2="47.90" y2="2295.40" class="tk"/>
<line x1="36.10" y1="2343.40" x2="47.90" y2="2343.40" class="tk"/>
<line x1="36.10" y1="2390.80" x2="47.90" y2="2390.80" class="tk"/>
<line x1="60.70" y1="2153.30" x2="60.70" y2="2241.40" class="bar"/>
<line x1="165.00" y1="2173.00" x2="165.00" y2="2235.30" class="bar"/>
<line x1="186.10" y1="2154.10" x2="186.10" y2="2263.30" class="bar"/>
<line x1="239.60" y1="2251.00" x2="239.60" y2="2388.80" class="bar"/>
<line x1="273.60" y1="2281.00" x2="273.60" y2="2336.00" class="bar"/>
<line x1="295.40" y1="2281.00" x2="295.40" y2="2393.10" class="bar"/>
<line x1="310.90" y1="2291.60" x2="310.90" y2="2378.70" class="bar"/>
<line x1="323.30" y1="2303.80" x2="323.30" y2="2371.10" class="bar"/>
<line x1="376.60" y1="2325.90" x2="376.60" y2="2374.90" class="bar"/>
<polyline points="60.70,2197.00 165.00,2204.20 186.10,2208.80 239.60,2319.00 273.60,2308.90 295.40,2336.80 310.90,2335.00 323.30,2337.60 376.60,2350.20" class="ln"/>
<ellipse cx="60.70" cy="2197.00" rx="5.0" ry="4.7" class="pt"/>
<ellipse cx="165.00" cy="2204.20" rx="5.0" ry="4.7" class="pt"/>
<ellipse cx="186.10" cy="2208.80" rx="5.0" ry="4.7" class="pt"/>
<ellipse cx="239.60" cy="2319.00" rx="5.0" ry="4.7" class="pt"/>
<ellipse cx="273.60" cy="2308.90" rx="5.0" ry="4.7" class="pt"/>
<ellipse cx="295.40" cy="2336.80" rx="5.0" ry="4.7" class="pt"/>
<ellipse cx="310.90" cy="2335.00" rx="5.0" ry="4.7" class="pt"/>
<ellipse cx="323.30" cy="2337.60" rx="5.0" ry="4.7" class="pt"/>
<ellipse cx="376.60" cy="2350.20" rx="5.0" ry="4.7" class="pt"/>
<rect x="459.90" y="2144.00" width="340.90" height="258.20" fill="#FFFFFF"/>
<line x1="591.30" y1="2402.86" x2="591.30" y2="2144.00" class="dot"/>
<line x1="669.80" y1="2402.86" x2="669.80" y2="2144.00" class="dot"/>
<line x1="713.40" y1="2402.86" x2="713.40" y2="2144.00" class="dot"/>
<line x1="748.40" y1="2402.86" x2="748.40" y2="2144.00" class="dot"/>
<line x1="591.30" y1="2402.20" x2="591.30" y2="2412.70" class="tk"/>
<line x1="669.80" y1="2402.20" x2="669.80" y2="2412.70" class="tk"/>
<line x1="713.40" y1="2402.20" x2="713.40" y2="2412.70" class="tk"/>
<line x1="748.40" y1="2402.20" x2="748.40" y2="2412.70" class="tk"/>
<rect x="459.90" y="2144.00" width="340.90" height="258.20" class="box"/>
<line x1="448.10" y1="2153.30" x2="459.90" y2="2153.30" class="tk"/>
<line x1="448.10" y1="2214.00" x2="459.90" y2="2214.00" class="tk"/>
<line x1="448.10" y1="2274.80" x2="459.90" y2="2274.80" class="tk"/>
<line x1="448.10" y1="2335.30" x2="459.90" y2="2335.30" class="tk"/>
<line x1="448.10" y1="2396.10" x2="459.90" y2="2396.10" class="tk"/>
<line x1="472.50" y1="2223.00" x2="472.50" y2="2266.80" stroke="#008B8B" stroke-width="1.00"/>
<line x1="577.30" y1="2222.50" x2="577.30" y2="2269.60" stroke="#008B8B" stroke-width="1.00"/>
<line x1="652.30" y1="2213.70" x2="652.30" y2="2229.00" stroke="#008B8B" stroke-width="1.00"/>
<line x1="686.00" y1="2188.40" x2="686.00" y2="2203.60" stroke="#008B8B" stroke-width="1.00"/>
<line x1="788.50" y1="2255.60" x2="788.50" y2="2277.90" stroke="#008B8B" stroke-width="1.00"/>
<line x1="472.50" y1="2153.30" x2="472.50" y2="2223.00" stroke="#B452CD" stroke-width="2.00"/>
<line x1="472.50" y1="2266.80" x2="472.50" y2="2308.40" stroke="#B452CD" stroke-width="1.60"/>
<line x1="577.30" y1="2171.00" x2="577.30" y2="2222.50" stroke="#B452CD" stroke-width="2.00"/>
<line x1="577.30" y1="2269.60" x2="577.30" y2="2302.90" stroke="#B452CD" stroke-width="1.60"/>
<line x1="597.80" y1="2156.50" x2="597.80" y2="2316.10" stroke="#B452CD" stroke-width="1.80"/>
<line x1="652.30" y1="2229.00" x2="652.30" y2="2393.10" stroke="#B452CD" stroke-width="1.80"/>
<line x1="686.00" y1="2203.60" x2="686.00" y2="2311.40" stroke="#B452CD" stroke-width="1.80"/>
<line x1="707.30" y1="2218.30" x2="707.30" y2="2367.80" stroke="#B452CD" stroke-width="1.80"/>
<line x1="723.30" y1="2234.80" x2="723.30" y2="2363.40" stroke="#B452CD" stroke-width="1.80"/>
<line x1="735.20" y1="2237.10" x2="735.20" y2="2352.80" stroke="#B452CD" stroke-width="1.80"/>
<line x1="788.50" y1="2208.70" x2="788.50" y2="2238.60" stroke="#B452CD" stroke-width="1.60"/>
<line x1="788.50" y1="2277.90" x2="788.50" y2="2310.70" stroke="#B452CD" stroke-width="1.80"/>
<polyline points="472.50,2247.10 577.30,2240.00 597.80,2235.30 652.30,2261.40 686.00,2225.20 707.30,2277.20 723.30,2281.70 735.20,2285.50 788.50,2271.30" fill="none" stroke="#008B8B" stroke-width="1.00" stroke-linejoin="round"/>
<polyline points="472.50,2287.90 577.30,2286.80 597.80,2284.60 652.30,2259.90 686.00,2225.20 707.30,2253.80 723.30,2261.40 735.20,2258.10 788.50,2223.40" fill="none" stroke="#B452CD" stroke-width="1.60" stroke-linejoin="round"/>
<polyline points="472.50,2188.00 577.30,2196.20 597.80,2201.70 652.30,2311.40 686.00,2283.50 707.30,2306.40 723.30,2315.20 735.20,2315.20 788.50,2288.10" fill="none" stroke="#B452CD" stroke-width="2.20" stroke-linejoin="round"/>
<ellipse cx="472.50" cy="2247.10" rx="5.15" ry="4.65" fill="#fff" stroke="#008B8B" stroke-width="1.45"/>
<ellipse cx="577.30" cy="2240.00" rx="5.15" ry="4.65" fill="#fff" stroke="#008B8B" stroke-width="1.45"/>
<ellipse cx="597.80" cy="2235.30" rx="5.15" ry="4.65" fill="#fff" stroke="#008B8B" stroke-width="1.45"/>
<ellipse cx="652.30" cy="2261.40" rx="5.15" ry="4.65" fill="#fff" stroke="#008B8B" stroke-width="1.45"/>
<ellipse cx="686.00" cy="2225.20" rx="5.15" ry="4.65" fill="#fff" stroke="#008B8B" stroke-width="1.45"/>
<ellipse cx="707.30" cy="2277.20" rx="5.15" ry="4.65" fill="#fff" stroke="#008B8B" stroke-width="1.45"/>
<ellipse cx="723.30" cy="2281.70" rx="5.15" ry="4.65" fill="#fff" stroke="#008B8B" stroke-width="1.45"/>
<ellipse cx="735.20" cy="2285.50" rx="5.15" ry="4.65" fill="#fff" stroke="#008B8B" stroke-width="1.45"/>
<ellipse cx="788.50" cy="2271.30" rx="5.15" ry="4.65" fill="#fff" stroke="#008B8B" stroke-width="1.45"/>
<ellipse cx="472.50" cy="2287.90" rx="5.15" ry="4.65" fill="#fff" stroke="#B452CD" stroke-width="1.45"/>
<ellipse cx="577.30" cy="2286.80" rx="5.15" ry="4.65" fill="#fff" stroke="#B452CD" stroke-width="1.45"/>
<ellipse cx="597.80" cy="2284.60" rx="5.15" ry="4.65" fill="#fff" stroke="#B452CD" stroke-width="1.45"/>
<ellipse cx="652.30" cy="2259.90" rx="5.15" ry="4.65" fill="#fff" stroke="#B452CD" stroke-width="1.45"/>
<ellipse cx="686.00" cy="2225.20" rx="5.15" ry="4.65" fill="#fff" stroke="#B452CD" stroke-width="1.45"/>
<ellipse cx="707.30" cy="2253.80" rx="5.15" ry="4.65" fill="#fff" stroke="#B452CD" stroke-width="1.45"/>
<ellipse cx="723.30" cy="2261.40" rx="5.15" ry="4.65" fill="#fff" stroke="#B452CD" stroke-width="1.45"/>
<ellipse cx="735.20" cy="2258.10" rx="5.15" ry="4.65" fill="#fff" stroke="#B452CD" stroke-width="1.45"/>
<ellipse cx="788.50" cy="2223.40" rx="5.15" ry="4.65" fill="#fff" stroke="#B452CD" stroke-width="1.45"/>
<ellipse cx="472.50" cy="2188.00" rx="5.15" ry="4.65" fill="#fff" stroke="#B452CD" stroke-width="1.45"/>
<ellipse cx="577.30" cy="2196.20" rx="5.15" ry="4.65" fill="#fff" stroke="#B452CD" stroke-width="1.45"/>
<ellipse cx="597.80" cy="2201.70" rx="5.15" ry="4.65" fill="#fff" stroke="#B452CD" stroke-width="1.45"/>
<ellipse cx="652.30" cy="2311.40" rx="5.15" ry="4.65" fill="#fff" stroke="#B452CD" stroke-width="1.45"/>
<ellipse cx="686.00" cy="2283.50" rx="5.15" ry="4.65" fill="#fff" stroke="#B452CD" stroke-width="1.45"/>
<ellipse cx="707.30" cy="2306.40" rx="5.15" ry="4.65" fill="#fff" stroke="#B452CD" stroke-width="1.45"/>
<ellipse cx="723.30" cy="2315.20" rx="5.15" ry="4.65" fill="#fff" stroke="#B452CD" stroke-width="1.45"/>
<ellipse cx="735.20" cy="2315.20" rx="5.15" ry="4.65" fill="#fff" stroke="#B452CD" stroke-width="1.45"/>
<ellipse cx="788.50" cy="2288.10" rx="5.15" ry="4.65" fill="#fff" stroke="#B452CD" stroke-width="1.45"/>
<g class="tx">
<text transform="matrix(0.43332 0 0 0.48257 46.32 38.40)" style="" fill="#000" stroke="#000" stroke-width="0.875">A.</text>
<text transform="matrix(0.45596 0 0 0.48257 99.65 38.40)" style="font-style:italic;" fill="#000" stroke="#000" stroke-width="0.853">Asio</text>
<text transform="matrix(0.48124 0 0 0.48257 199.63 38.40)" style="font-style:italic;" fill="#000" stroke="#000" stroke-width="0.830">otus</text>
<text transform="matrix(0.44295 0 0 0.48257 302.01 38.50)" style="" fill="#000" stroke="#000" stroke-width="0.865">TMT</text>
<text transform="matrix(0.39225 0 0 0.44116 403.77 35.57)" fill="#000" stroke="#000" stroke-width="0.962">(</text>
<text transform="matrix(0.49965 0 0 0.48257 418.88 38.50)" style="" fill="#000" stroke="#000" stroke-width="0.815">n=157</text>
<text transform="matrix(0.39602 0 0 0.44008 560.97 35.49)" fill="#000" stroke="#000" stroke-width="0.958">)</text>
<text transform="matrix(0.35650 0 0 0.38518 171.03 84.15)" style="" fill="#808080" stroke="#808080" stroke-width="1.889">Length</text>
<text transform="matrix(0 -0.37306 0.41425 0 31.80 134.46)" fill="#000" stroke="#000" stroke-width="1.018">46</text>
<text transform="matrix(0 -0.36759 0.40989 0 33.70 223.54)" fill="#000" stroke="#000" stroke-width="1.030">45</text>
<text transform="matrix(0 -0.37168 0.40117 0 33.00 315.45)" fill="#000" stroke="#000" stroke-width="1.036">44</text>
<text transform="matrix(0.38141 0 0 0.39972 156.48 407.60)" style="" fill="#000" stroke="#000" stroke-width="1.024">29</text>
<text transform="matrix(0.38516 0 0 0.39972 234.86 407.60)" style="" fill="#000" stroke="#000" stroke-width="1.019">20</text>
<text transform="matrix(0.37620 0 0 0.39972 284.93 407.60)" style="" fill="#000" stroke="#000" stroke-width="1.032">15</text>
<text transform="matrix(0.35869 0 0 0.39245 593.29 84.75)" style="" fill="#808080" stroke="#808080" stroke-width="1.866">Width</text>
<text transform="matrix(0 -0.36941 0.41280 0 445.50 179.25)" fill="#000" stroke="#000" stroke-width="1.024">4.8</text>
<text transform="matrix(0 -0.37181 0.41280 0 445.50 300.35)" fill="#000" stroke="#000" stroke-width="1.021">4.6</text>
<text transform="matrix(0 -0.36774 0.40408 0 444.90 392.24)" fill="#000" stroke="#000" stroke-width="1.038">4.4</text>
<text transform="matrix(0.38338 0 0 0.40698 568.27 407.60)" style="" fill="#000" stroke="#000" stroke-width="1.013">29</text>
<text transform="matrix(0.38516 0 0 0.40698 646.56 407.60)" style="" fill="#000" stroke="#000" stroke-width="1.010">20</text>
<text transform="matrix(0.37117 0 0 0.40698 697.17 407.60)" style="" fill="#000" stroke="#000" stroke-width="1.029">15</text>
<text transform="matrix(0.36328 0 0 0.38082 161.27 458.35)" style="" fill="#808080" stroke="#808080" stroke-width="1.882">Depth</text>
<text transform="matrix(0 -0.35724 0.41716 0 33.80 505.06)" fill="#000" stroke="#000" stroke-width="1.036">3.5</text>
<text transform="matrix(0 -0.36236 0.41716 0 33.80 620.88)" fill="#000" stroke="#000" stroke-width="1.029">3.3</text>
<text transform="matrix(0 -0.35604 0.41716 0 33.80 736.06)" fill="#000" stroke="#000" stroke-width="1.038">3.1</text>
<text transform="matrix(0.38141 0 0 0.39972 156.48 769.10)" style="" fill="#000" stroke="#000" stroke-width="1.024">29</text>
<text transform="matrix(0.38516 0 0 0.39972 234.86 769.10)" style="" fill="#000" stroke="#000" stroke-width="1.019">20</text>
<text transform="matrix(0.35810 0 0 0.39972 291.77 769.10)" style="" fill="#000" stroke="#000" stroke-width="1.057">15</text>
<text transform="matrix(0.31112 0 0 0.38663 564.30 458.45)" style="" fill="#808080" stroke="#808080" stroke-width="2.018">PCs</text>
<text transform="matrix(0.36182 0 0 0.38663 630.19 458.45)" style="" fill="#808080" stroke="#808080" stroke-width="1.872">1</text>
<text transform="matrix(0.37965 0 0 0.38663 676.90 458.45)" style="" fill="#808080" stroke="#808080" stroke-width="1.827">3</text>
<text transform="matrix(0 -0.37110 0.39826 0 444.70 510.83)" fill="#000" stroke="#000" stroke-width="1.040">1</text>
<text transform="matrix(0 -0.38492 0.41280 0 445.50 636.40)" fill="#000" stroke="#000" stroke-width="1.003">0</text>
<text transform="matrix(0.38338 0 0 0.40698 568.27 769.60)" style="" fill="#000" stroke="#000" stroke-width="1.013">29</text>
<text transform="matrix(0.38516 0 0 0.40698 646.56 769.60)" style="" fill="#000" stroke="#000" stroke-width="1.010">20</text>
<text transform="matrix(0.36313 0 0 0.40698 703.73 769.60)" style="" fill="#000" stroke="#000" stroke-width="1.040">15</text>
<text transform="matrix(0.43552 0 0 0.48693 46.83 862.70)" style="" fill="#000" stroke="#000" stroke-width="0.869">B.</text>
<text transform="matrix(0.47059 0 0 0.48257 98.17 862.70)" style="font-style:italic;" fill="#000" stroke="#000" stroke-width="0.839">Tyto</text>
<text transform="matrix(0.46783 0 0 0.48257 201.45 862.70)" style="font-style:italic;" fill="#000" stroke="#000" stroke-width="0.842">alba</text>
<text transform="matrix(0.44095 0 0 0.48257 301.11 862.70)" style="" fill="#000" stroke="#000" stroke-width="0.867">TMT</text>
<text transform="matrix(0.39979 0 0 0.43901 402.02 859.51)" fill="#000" stroke="#000" stroke-width="0.955">(</text>
<text transform="matrix(0.49752 0 0 0.48257 417.60 862.70)" style="" fill="#000" stroke="#000" stroke-width="0.816">n=111</text>
<text transform="matrix(0.39979 0 0 0.44008 559.87 859.69)" fill="#000" stroke="#000" stroke-width="0.954">)</text>
<text transform="matrix(0.35753 0 0 0.38082 177.12 908.35)" style="" fill="#808080" stroke="#808080" stroke-width="1.897">Length</text>
<text transform="matrix(0 -0.36673 0.41425 0 33.80 1026.68)" fill="#000" stroke="#000" stroke-width="1.026">73</text>
<text transform="matrix(0 -0.36257 0.40117 0 33.00 1143.86)" fill="#000" stroke="#000" stroke-width="1.049">71</text>
<text transform="matrix(0.38536 0 0 0.40698 157.76 1219.60)" style="" fill="#000" stroke="#000" stroke-width="1.010">29</text>
<text transform="matrix(0.38516 0 0 0.40698 236.56 1219.60)" style="" fill="#000" stroke="#000" stroke-width="1.010">20</text>
<text transform="matrix(0.37117 0 0 0.40698 293.67 1219.60)" style="" fill="#000" stroke="#000" stroke-width="1.029">15</text>
<text transform="matrix(0.35749 0 0 0.38663 593.59 908.75)" style="" fill="#808080" stroke="#808080" stroke-width="1.883">Width</text>
<text transform="matrix(0 -0.36790 0.41280 0 445.50 965.14)" fill="#000" stroke="#000" stroke-width="1.026">4.8</text>
<text transform="matrix(0 -0.36297 0.40989 0 445.50 1068.43)" fill="#000" stroke="#000" stroke-width="1.037">4.5</text>
<text transform="matrix(0 -0.35690 0.40117 0 438.80 1174.82)" fill="#000" stroke="#000" stroke-width="1.057">4.2</text>
<text transform="matrix(0.39225 0 0 0.40698 569.23 1219.60)" style="" fill="#000" stroke="#000" stroke-width="1.001">29</text>
<text transform="matrix(0.38516 0 0 0.40698 648.36 1219.60)" style="" fill="#000" stroke="#000" stroke-width="1.010">20</text>
<text transform="matrix(0.37117 0 0 0.40698 705.47 1219.60)" style="" fill="#000" stroke="#000" stroke-width="1.029">15</text>
<text transform="matrix(0.36169 0 0 0.38227 180.38 1282.65)" style="" fill="#808080" stroke="#808080" stroke-width="1.883">Depth</text>
<text transform="matrix(0 -0.36442 0.41425 0 33.80 1378.44)" fill="#000" stroke="#000" stroke-width="1.029">4.0</text>
<text transform="matrix(0 -0.36924 0.41716 0 33.80 1503.91)" fill="#000" stroke="#000" stroke-width="1.019">3.6</text>
<text transform="matrix(0.38043 0 0 0.39826 170.19 1624.40)" style="" fill="#000" stroke="#000" stroke-width="1.028">29</text>
<text transform="matrix(0.38516 0 0 0.39826 236.56 1624.40)" style="" fill="#000" stroke="#000" stroke-width="1.021">20</text>
<text transform="matrix(0.37117 0 0 0.39826 293.67 1624.40)" style="" fill="#000" stroke="#000" stroke-width="1.040">15</text>
<text transform="matrix(0.31282 0 0 0.38663 582.68 1282.85)" style="" fill="#808080" stroke="#808080" stroke-width="2.013">PCs</text>
<text transform="matrix(0.38501 0 0 0.38663 648.62 1282.85)" style="" fill="#808080" stroke="#808080" stroke-width="1.814">1</text>
<text transform="matrix(0.37543 0 0 0.38663 695.72 1282.85)" style="" fill="#808080" stroke="#808080" stroke-width="1.837">3</text>
<text transform="matrix(0 -0.39328 0.41280 0 445.50 1369.04)" fill="#000" stroke="#000" stroke-width="0.993">0</text>
<text transform="matrix(0 -0.38270 0.39826 0 444.70 1446.72)" fill="#000" stroke="#000" stroke-width="1.025">1</text>
<text transform="matrix(0 -0.39072 0.40408 0 444.90 1533.67)" fill="#000" stroke="#000" stroke-width="1.007">2</text>
<text transform="matrix(0.38043 0 0 0.39826 581.99 1624.40)" style="" fill="#000" stroke="#000" stroke-width="1.028">29</text>
<text transform="matrix(0.38125 0 0 0.39826 648.98 1624.40)" style="" fill="#000" stroke="#000" stroke-width="1.027">20</text>
<text transform="matrix(0.37117 0 0 0.39826 705.97 1624.40)" style="" fill="#000" stroke="#000" stroke-width="1.040">15</text>
<text transform="matrix(0.44527 0 0 0.48547 50.34 1712.80)" style="" fill="#000" stroke="#000" stroke-width="0.860">C.</text>
<text transform="matrix(0.46925 0 0 0.48547 106.71 1712.80)" style="font-style:italic;" fill="#000" stroke="#000" stroke-width="0.838">Athene</text>
<text transform="matrix(0.47355 0 0 0.48547 266.45 1712.80)" style="font-style:italic;" fill="#000" stroke="#000" stroke-width="0.834">cunicularia</text>
<text transform="matrix(0.44394 0 0 0.48547 499.50 1712.80)" style="" fill="#000" stroke="#000" stroke-width="0.862">TMT</text>
<text transform="matrix(0.39979 0 0 0.43364 601.02 1709.62)" fill="#000" stroke="#000" stroke-width="0.961">(</text>
<text transform="matrix(0.50817 0 0 0.48547 616.63 1712.80)" style="" fill="#000" stroke="#000" stroke-width="0.805">n=74</text>
<text transform="matrix(0.39225 0 0 0.43579 732.67 1709.78)" fill="#000" stroke="#000" stroke-width="0.967">)</text>
<text transform="matrix(0.35925 0 0 0.38373 176.90 1764.95)" style="" fill="#808080" stroke="#808080" stroke-width="1.885">Length</text>
<text transform="matrix(0 -0.37524 0.41280 0 33.80 1809.16)" fill="#000" stroke="#000" stroke-width="1.016">49</text>
<text transform="matrix(0 -0.37384 0.41280 0 33.80 1886.76)" fill="#000" stroke="#000" stroke-width="1.018">48</text>
<text transform="matrix(0 -0.37341 0.39536 0 33.00 1964.76)" fill="#000" stroke="#000" stroke-width="1.041">47</text>
<text transform="matrix(0 -0.37976 0.41280 0 33.80 2044.97)" fill="#000" stroke="#000" stroke-width="1.010">46</text>
<text transform="matrix(0.38338 0 0 0.39972 162.47 2075.60)" style="" fill="#000" stroke="#000" stroke-width="1.022">29</text>
<text transform="matrix(0.38516 0 0 0.39972 234.86 2075.60)" style="" fill="#000" stroke="#000" stroke-width="1.019">20</text>
<text transform="matrix(0.37620 0 0 0.39972 284.93 2075.60)" style="" fill="#000" stroke="#000" stroke-width="1.032">15</text>
<text transform="matrix(0.35869 0 0 0.38518 593.59 1765.15)" style="" fill="#808080" stroke="#808080" stroke-width="1.883">Width</text>
<text transform="matrix(0 -0.36596 0.40844 0 445.35 1814.09)" fill="#808080" stroke="#808080" stroke-width="1.811">2.9</text>
<text transform="matrix(0 -0.37103 0.41280 0 445.50 1894.17)" fill="#000" stroke="#000" stroke-width="1.022">2.8</text>
<text transform="matrix(0 -0.36137 0.40408 0 445.10 1966.52)" fill="#000" stroke="#000" stroke-width="1.047">2.7</text>
<text transform="matrix(0 -0.36577 0.41280 0 445.50 2039.34)" fill="#000" stroke="#000" stroke-width="1.029">2.6</text>
<text transform="matrix(0.38733 0 0 0.39826 574.75 2075.60)" style="" fill="#000" stroke="#000" stroke-width="1.018">29</text>
<text transform="matrix(0.38809 0 0 0.39826 646.95 2075.60)" style="" fill="#000" stroke="#000" stroke-width="1.017">20</text>
<text transform="matrix(0.36615 0 0 0.39826 697.61 2075.60)" style="" fill="#000" stroke="#000" stroke-width="1.047">15</text>
<text transform="matrix(0.36526 0 0 0.38518 179.95 2132.85)" style="" fill="#808080" stroke="#808080" stroke-width="1.866">Depth</text>
<text transform="matrix(0 -0.36872 0.41425 0 33.80 2179.15)" fill="#000" stroke="#000" stroke-width="1.023">2.8</text>
<text transform="matrix(0 -0.37194 0.41425 0 33.80 2275.67)" fill="#000" stroke="#000" stroke-width="1.019">2.6</text>
<text transform="matrix(0 -0.36779 0.41425 0 33.80 2365.95)" fill="#000" stroke="#000" stroke-width="1.025">2.4</text>
<text transform="matrix(0.38141 0 0 0.39972 156.48 2443.30)" style="" fill="#000" stroke="#000" stroke-width="1.024">29</text>
<text transform="matrix(0.38223 0 0 0.39972 241.08 2443.30)" style="" fill="#000" stroke="#000" stroke-width="1.023">20</text>
<text transform="matrix(0.35810 0 0 0.39972 291.77 2443.30)" style="" fill="#000" stroke="#000" stroke-width="1.057">15</text>
<text transform="matrix(0.31282 0 0 0.38663 582.68 2132.85)" style="" fill="#808080" stroke="#808080" stroke-width="2.013">PCs</text>
<text transform="matrix(0.38501 0 0 0.38663 648.62 2132.85)" style="" fill="#808080" stroke="#808080" stroke-width="1.814">1</text>
<text transform="matrix(0.37543 0 0 0.38663 695.72 2132.85)" style="" fill="#808080" stroke="#808080" stroke-width="1.837">3</text>
<text transform="matrix(0 -0.38038 0.39826 0 444.90 2160.50)" fill="#000" stroke="#000" stroke-width="1.028">1</text>
<text transform="matrix(0 -0.39328 0.40989 0 445.50 2280.74)" fill="#000" stroke="#000" stroke-width="0.996">0</text>
<text transform="matrix(0 -0.37806 0.39826 0 444.90 2392.48)" fill="#000" stroke="#000" stroke-width="1.031">1</text>
<text transform="matrix(0.43660 0 0 0.40262 565.50 2440.80)" style="" fill="#000" stroke="#000" stroke-width="0.954">29</text>
<text transform="matrix(0.42622 0 0 0.40262 637.16 2440.80)" style="" fill="#000" stroke="#000" stroke-width="0.966">20</text>
<text transform="matrix(0.40437 0 0 0.40262 697.62 2440.80)" style="" fill="#000" stroke="#000" stroke-width="0.991">15</text>
</g>
</svg>
</body></html>
